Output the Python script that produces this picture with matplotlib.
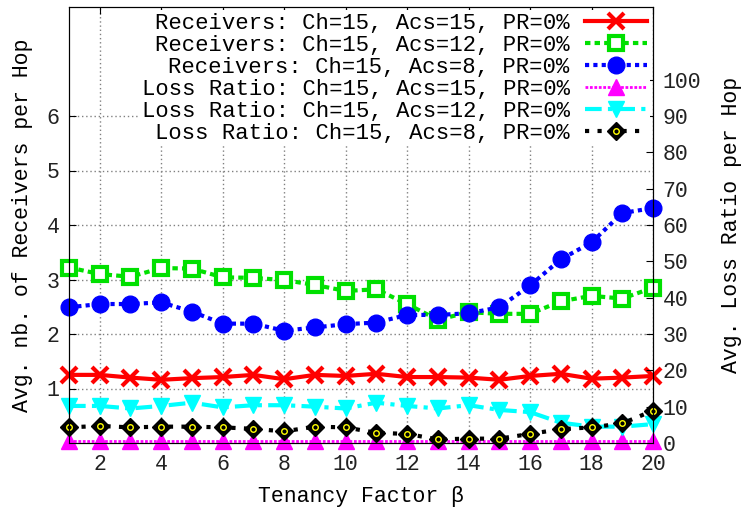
import numpy as np
import matplotlib
matplotlib.use('Agg')
import matplotlib.pyplot as plt

# tenancy factor
beta = list(range(1, 21))

# avg nb of receivers per hop (left axis)
recv_acs15 = [1.25, 1.25, 1.20, 1.16, 1.19, 1.21, 1.25, 1.17, 1.25, 1.23,
              1.27, 1.21, 1.21, 1.20, 1.16, 1.23, 1.27, 1.18, 1.20, 1.23]
recv_acs12 = [3.22, 3.10, 3.05, 3.21, 3.20, 3.04, 3.03, 2.99, 2.90, 2.79,
              2.82, 2.55, 2.26, 2.40, 2.37, 2.37, 2.60, 2.70, 2.65, 2.85]
recv_acs8 = [2.49, 2.55, 2.55, 2.58, 2.41, 2.19, 2.19, 2.06, 2.12, 2.18,
             2.21, 2.35, 2.35, 2.38, 2.49, 2.89, 3.37, 3.68, 4.22, 4.31]

# avg loss ratio per hop (right axis)
loss_acs15 = [0.5] * 20
loss_acs12 = [10.2, 10.2, 9.5, 10.2, 11.1, 9.8, 10.4, 10.4, 10.0, 9.5,
              11.1, 10.2, 9.5, 10.4, 9.1, 8.5, 5.6, 4.5, 4.5, 5.2]
loss_acs8 = [4.3, 4.7, 4.3, 4.5, 4.5, 4.3, 3.9, 3.2, 4.5, 4.3,
             2.8, 2.5, 1.0, 1.2, 1.2, 2.5, 3.8, 4.3, 5.4, 8.9]

x_ticks = list(range(2, 21, 2))
left_ticks = [1, 2, 3, 4, 5, 6]
right_ticks = list(range(0, 101, 10))

plt.rcParams['font.family'] = ['Liberation Mono', 'DejaVu Sans']
plt.rcParams['font.size'] = 15.5

fig = plt.figure(figsize=(7.44, 5.15), dpi=100)
ax = fig.add_axes([69/744, 72/515, 584/744, 436/515])
ax2 = ax.twinx()

h1, = ax.plot(beta, recv_acs15, color='red', lw=3, marker='x', ms=12, mew=3,
              label='Receivers: Ch=15, Acs=15, PR=0%', clip_on=False)
h2, = ax.plot(beta, recv_acs12, color='#00e000', lw=3, ls=(0, (1.3, 1)), marker='s',
              ms=10, mfc='white', mec='#00e000', mew=3,
              label='Receivers: Ch=15, Acs=12, PR=0%', clip_on=False)
h3, = ax.plot(beta, recv_acs8, color='blue', lw=3, ls=(0, (1, 1)), marker='o',
              ms=12, label='Receivers: Ch=15, Acs=8, PR=0%', clip_on=False)

h4, = ax2.plot(beta, loss_acs15, color='magenta', lw=2, ls=(0, (1, 0.6)), marker='^',
               ms=12, label='Loss Ratio: Ch=15, Acs=15, PR=0%', clip_on=False)
h5, = ax2.plot(beta, loss_acs12, color='cyan', lw=3, ls=(0, (4, 1.5, 1, 1.5)), marker='v',
               ms=12, label='Loss Ratio: Ch=15, Acs=12, PR=0%', clip_on=False)
h6, = ax2.plot(beta, loss_acs8, color='black', lw=3, ls=(0, (1, 2)), marker='D',
               ms=9.5, label='Loss Ratio: Ch=15, Acs=8, PR=0%', clip_on=False)
h6b, = ax2.plot(beta, loss_acs8, ls='none', marker='o', ms=4, mfc='none',
                mec='yellow', mew=1, clip_on=False)

ax.set_xlim(1, 20)
ax.set_ylim(0, 8)
ax2.set_ylim(0, 120)
ax.set_xticks(x_ticks)
ax.set_yticks(left_ticks)
ax2.set_yticks(right_ticks)

ax.grid(True, color='gray', ls=(0, (1, 2)), lw=1)
ax.tick_params(axis='x', direction='in', length=5, top=True, labelcolor='#222222', pad=8)
ax.tick_params(axis='y', direction='in', length=5, labelcolor='#222222', pad=7)
ax2.tick_params(direction='in', length=5, labelcolor='#222222', pad=7)

ax.set_xlabel('Tenancy Factor β', labelpad=8)
ax.set_ylabel('Avg. nb. of Receivers per Hop', labelpad=10)
ax2.set_ylabel('Avg. Loss Ratio per Hop', labelpad=14)

handles = [h1, h2, h3, h4, h5, (h6, h6b)]
labels = [h1.get_label(), h2.get_label(), h3.get_label(),
          h4.get_label(), h5.get_label(), h6.get_label()]
leg = ax2.legend(handles, labels, loc='upper right', bbox_to_anchor=(1, 1),
                 markerfirst=False, frameon=True, edgecolor='none', facecolor='white',
                 framealpha=1, fancybox=False, labelspacing=0.05, handlelength=2.8,
                 handletextpad=0.7, borderaxespad=0.15, borderpad=0.1, fontsize=16)
for t in leg.get_texts():
    t.set_ha('right')

fig.savefig('out.png', dpi=100)
